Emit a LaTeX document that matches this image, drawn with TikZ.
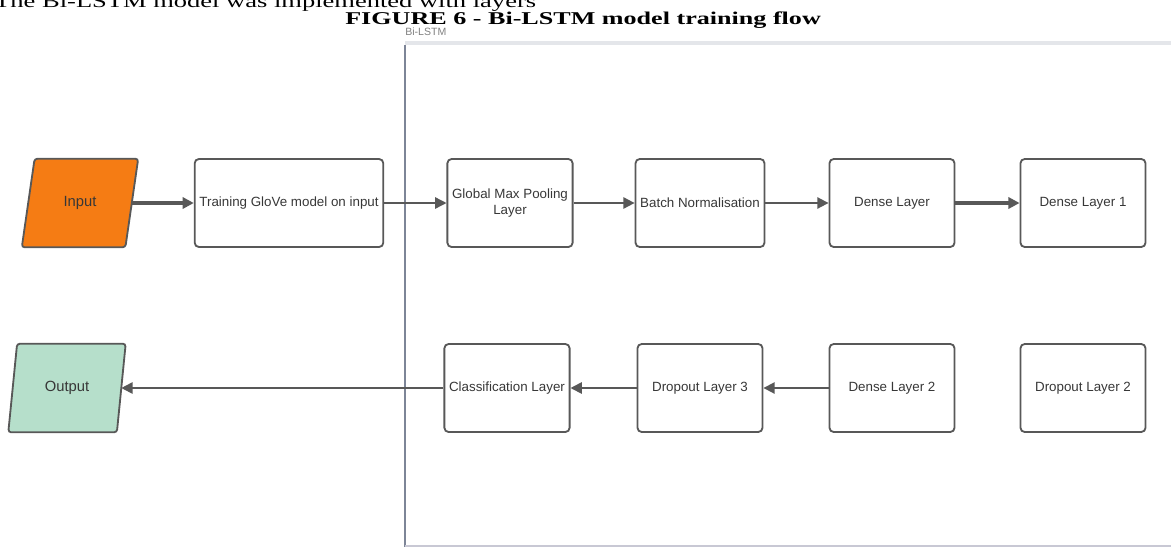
\documentclass[tikz,border=0pt]{standalone}
\usepackage{fontspec}
\setmainfont{Liberation Serif}
\setsansfont{Liberation Sans}
\usetikzlibrary{arrows.meta, positioning, backgrounds, calc}
\definecolor{inorange}{RGB}{245,124,20}
\definecolor{outgreen}{RGB}{182,223,203}
\definecolor{edgegray}{RGB}{88,88,88}
\definecolor{textgray}{RGB}{55,55,55}
\definecolor{laneline}{RGB}{125,133,151}
\definecolor{lanehead}{RGB}{228,230,234}
\definecolor{lanebottom}{RGB}{200,200,212}

\begin{document}
\begin{tikzpicture}[
  x=0.025cm, y=-0.025cm,
  box/.style   = {rectangle, rounded corners=3pt, minimum width=3.125cm,
                  minimum height=2.2cm, font=\sffamily\fontsize{9.5}{11}\selectfont,
                  text=textgray, draw=edgegray, line width=1.3pt, align=center},
  iobox/.style = {rectangle, minimum width=2.6cm, minimum height=2.2cm,
                  font=\sffamily\fontsize{10.5}{12}\selectfont, text=textgray},
  para/.style  = {draw=edgegray, line width=1.3pt, rounded corners=2pt},
  arr/.style   = {-{Triangle[length=8pt, width=8pt]}, line width=1.3pt, edgegray},
  thickarr/.style = {arr, line width=2.2pt},
]
  \useasboundingbox (0,0) rectangle (1171,547);
  \clip (0,0) rectangle (1171,547);

  % heading
  \node[anchor=base west, inner sep=0pt] (intro) at (-6,7)
    {\scalebox{1.45}[1]{\fontsize{13}{15}\selectfont The Bi-LSTM model was implemented with layers}};
  \node[anchor=base west, inner sep=0pt] (title) at (345,24)
    {\scalebox{1.45}[1]{\bfseries\fontsize{12.8}{15}\selectfont FIGURE 6 - Bi-LSTM model training flow}};

  % swimlane
  \draw[lanehead, line width=3.5pt] (405,43) -- (1171,43);
  \draw[laneline, line width=1.4pt] (405,45) -- (405,547);
  \draw[lanebottom, line width=0.8pt] (405,546) -- (1171,546);
  \node[anchor=base west, inner sep=0pt, font=\sffamily\fontsize{7.5}{8}\selectfont,
        text=gray] (lane) at (405,35) {Bi-LSTM};

  % top row
  \node[iobox, minimum width=2.575cm] (in) at (80,203) {Input};
  \node[box, minimum width=4.5cm]  (train)  at (289,203) {Training GloVe model on input};
  \node[box, minimum width=3.1cm]  (gmp)    at (510,203) {Global Max Pooling\\Layer};
  \node[box]                       (bn)     at (700,203) {Batch Normalisation};
  \node[box]                       (dense)  at (892,203) {Dense Layer};
  \node[box]                       (dense1) at (1083,203) {Dense Layer 1};

  % bottom row
  \node[iobox, minimum width=2.7cm] (out) at (67,388) {Output};
  \node[box, minimum width=3.1cm]  (cls)    at (507,388) {Classification Layer};
  \node[box]                       (drop3)  at (700,388) {Dropout Layer 3};
  \node[box]                       (dense2) at (892,388) {Dense Layer 2};
  \node[box]                       (drop2)  at (1083,388) {Dropout Layer 2};

  \begin{scope}[on background layer]
    \draw[para, fill=inorange] ([xshift=0.16cm]in.north west) -- ([xshift=0.16cm]in.north east)
      -- ([xshift=-0.16cm]in.south east) -- ([xshift=-0.16cm]in.south west) -- cycle;
    \draw[para, fill=outgreen] ([xshift=0.11cm]out.north west) -- ([xshift=0.11cm]out.north east)
      -- ([xshift=-0.11cm]out.south east) -- ([xshift=-0.11cm]out.south west) -- cycle;
  \end{scope}

  \draw[thickarr] (in) -- (train);
  \draw[arr, line width=1pt] (train) -- (gmp);
  \draw[arr] (gmp) -- (bn);
  \draw[arr] (bn) -- (dense);
  \draw[thickarr] (dense) -- (dense1);
  \draw[arr] (dense2) -- (drop3);
  \draw[arr] (drop3) -- (cls);
  \draw[arr] (cls) -- (out);
\end{tikzpicture}
\end{document}
